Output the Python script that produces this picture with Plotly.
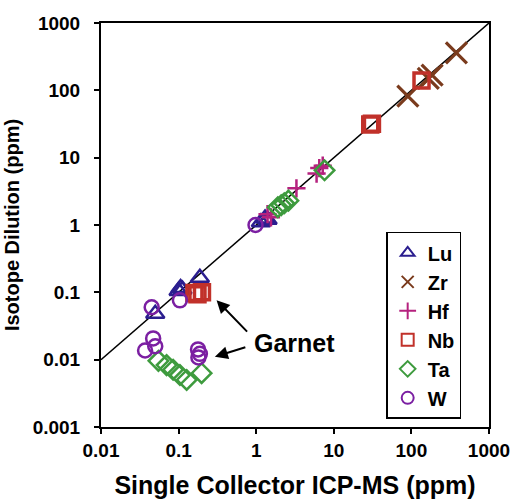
import plotly.graph_objects as go

# ---- data (x: Single Collector ICP-MS, y: Isotope Dilution; ppm) ----
lu_x = [0.05, 0.100, 0.106, 0.112, 0.188, 1.15, 1.3, 1.4]
lu_y = [0.048, 0.105, 0.116, 0.110, 0.165, 1.1, 1.25, 1.2]

zr_x = [90, 165, 185, 380]
zr_y = [82, 150, 168, 360]

hf_x = [1.4, 1.55, 3.3, 6.0, 6.5, 7.2]
hf_y = [1.45, 1.3, 3.5, 5.8, 7.0, 7.6]

nb_x = [0.16, 0.175, 0.2, 29.5, 31, 135]
nb_y = [0.098, 0.094, 0.100, 31, 32, 140]

ta_x = [0.055, 0.07, 0.085, 0.104, 0.127, 0.198, 1.9, 2.1, 2.3, 2.6, 7.6]
ta_y = [0.0096, 0.0083, 0.0071, 0.0059, 0.0050, 0.0063, 1.84, 1.97, 2.1, 2.3, 6.5]

w_x = [0.037, 0.045, 0.047, 0.05, 0.104, 0.178, 0.188, 0.18, 0.98]
w_y = [0.0137, 0.060, 0.0207, 0.0158, 0.076, 0.0142, 0.0122, 0.0108, 1.0]

one_to_one = [0.01, 1000]

tick_vals_x = [0.01, 0.1, 1, 10, 100, 1000]
tick_text_x = ["0.01", "0.1", "1", "10", "100", "1000"]
tick_vals_y = [0.001, 0.01, 0.1, 1, 10, 100, 1000]
tick_text_y = ["0.001", "0.01", "0.1", "1", "10", "100", "1000"]

FONT = "Liberation Sans, Arial, sans-serif"

fig = go.Figure()

fig.add_trace(go.Scatter(x=one_to_one, y=one_to_one, mode="lines",
                         line=dict(color="black", width=1.5),
                         showlegend=False, hoverinfo="skip"))

series = [
    ("Lu", lu_x, lu_y, "triangle-up-open", "#2B1E8F", 16, 2.5),
    ("Zr", zr_x, zr_y, "x-thin-open", "#7A3B1D", 21, 3.2),
    ("Hf", hf_x, hf_y, "cross-thin-open", "#B5217E", 13, 2.5),
    ("Nb", nb_x, nb_y, "square-open", "#C1312A", 15, 3.5),
    ("Ta", ta_x, ta_y, "diamond-open", "#3E9B3E", 15, 2.5),
    ("W", w_x, w_y, "circle-open", "#7B1FA2", 14, 2.5),
]
for name, xs, ys, sym, col, sz, lw in series:
    fig.add_trace(go.Scatter(
        x=xs, y=ys, mode="markers", name=name,
        marker=dict(symbol=sym, size=sz, color=col,
                    line=dict(color=col, width=lw)),
    ))

axis_common = dict(
    type="log", showgrid=False, zeroline=False, automargin=False,
    showline=True, linecolor="black", linewidth=2, mirror=True,
    ticks="outside", ticklen=5, tickwidth=1.5, tickcolor="black",
    tickfont=dict(family=FONT, size=19, color="black", weight="bold"),
)

fig.update_layout(
    width=512, height=499,
    margin=dict(l=101, r=23, t=23, b=72, autoexpand=False),
    paper_bgcolor="white", plot_bgcolor="white",
    font=dict(family=FONT, color="black"),
    xaxis=dict(axis_common, range=[-2, 3], tickvals=tick_vals_x, ticktext=tick_text_x,
               title=dict(text="Single Collector ICP-MS (ppm)", standoff=18,
                          font=dict(family=FONT, size=25, weight="bold"))),
    yaxis=dict(axis_common, range=[-3, 3], tickvals=tick_vals_y, ticktext=tick_text_y,
               ticklabelstandoff=10,
               title=dict(text="Isotope Dilution (ppm)", standoff=8,
                          font=dict(family=FONT, size=20, weight="bold"))),
    legend=dict(x=0.735, y=0.483, xanchor="left", yanchor="top",
                bordercolor="black", borderwidth=1.5, bgcolor="white",
                font=dict(family=FONT, size=20, weight="bold", color="black"),
                itemsizing="constant"),
    showlegend=True,
)

arrow = dict(showarrow=True, arrowhead=2, arrowsize=1.3, arrowwidth=2,
             arrowcolor="black", axref="pixel", ayref="pixel", text="")
fig.add_annotation(x=-0.511, y=-1.116, ax=32, ay=33, **arrow)
fig.add_annotation(x=-0.533, y=-1.957, ax=32, ay=-10, **arrow)
fig.add_annotation(x=0.497, y=-1.754, text="Garnet", showarrow=False,
                   font=dict(family=FONT, size=25, weight="bold", color="black"))

fig.write_html("out.html", config={"displayModeBar": False},
               post_script="document.body.style.margin='0';")
